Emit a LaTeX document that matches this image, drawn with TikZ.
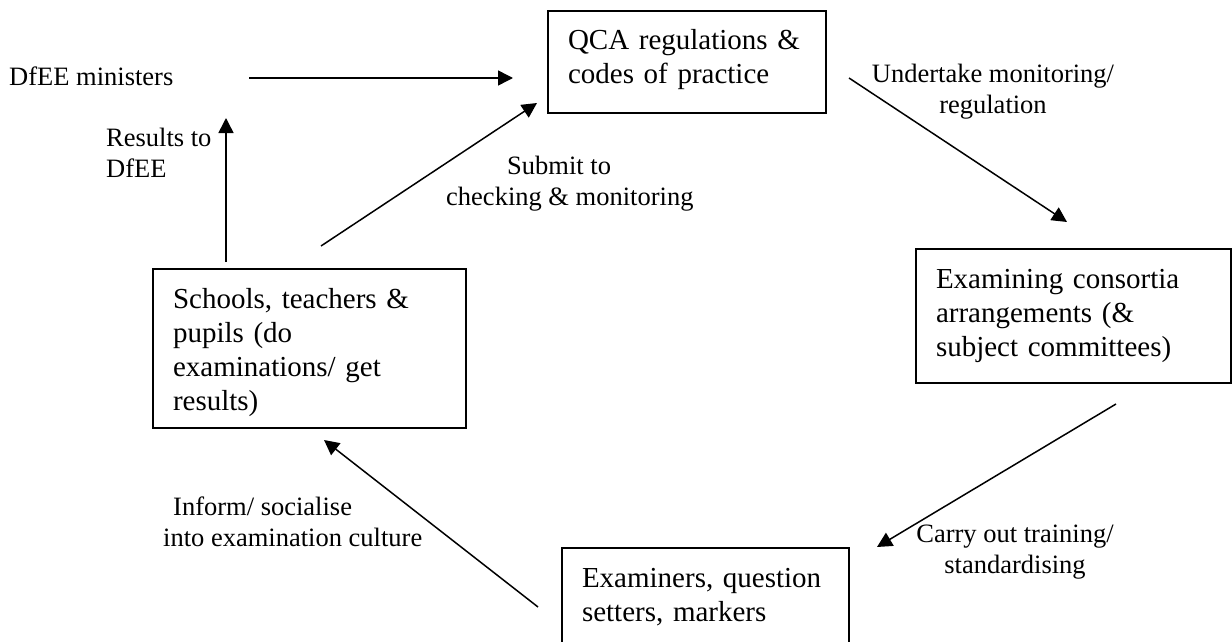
\documentclass[tikz,border=0pt]{standalone}
\usepackage{fontspec}
\setmainfont{Liberation Serif}
\usepackage{tikz}
\usetikzlibrary{arrows.meta}
\usetikzlibrary{positioning,calc}

\tikzset{
	stage/.style={draw,line width=1.5pt,outer sep=0pt,anchor=north west,align=left,inner xsep=20pt,inner ysep=0pt,text height=39pt,font=\fontsize{29}{34}\selectfont},
	lbl/.style={inner sep=0pt,font=\fontsize{26.5}{31}\selectfont},
	flow/.style={line width=1.5pt,-{Triangle[length=15pt,width=15pt]}}
}

\begin{document}
\begin{tikzpicture}[x=1pt,y=-1pt]
	\useasboundingbox (0,0) rectangle (1232,642);
	
	\node[stage,text width=238pt,text depth=63pt] (qca) at (548,11) {QCA regulations \&\\codes of practice};
	\node[stage,text width=273pt,text depth=120pt] (schools) at (153,269) {Schools, teachers \&\\pupils (do\\examinations/ get\\results)};
	\node[stage,text width=275pt,text depth=95pt] (examining) at (916,249) {Examining consortia\\arrangements (\&\\subject committees)};
	\node[stage,text width=247pt,text depth=80pt] (examiners) at (562,548) {Examiners, question\\setters, markers};
	
	\node[lbl,anchor=base west] (dfee) at (9,85) {DfEE ministers};
	\node[lbl,anchor=west,align=left] (results) at (106,153) {Results to\\DfEE};
	\node[lbl,anchor=west,align=left] (submit) at (446,184) {\hspace*{61pt}Submit to\\checking \& monitoring};
	\node[lbl,align=center] (undertake) at (993,92) {Undertake monitoring/\\regulation};
	\node[lbl,anchor=west,align=left] (inform) at (163,522) {\hspace*{10pt}Inform/ socialise\\into examination culture};
	\node[lbl,align=center] (carry) at (1015,552) {Carry out training/\\standardising};
	
	\coordinate (dfee-out) at (249,78);
	\coordinate (qca-in) at (513,78);
	\coordinate (schools-up) at (226,262);
	\coordinate (results-end) at (226,118);
	\coordinate (schools-out) at (321,246);
	\coordinate (qca-submit) at (537,103);
	\coordinate (qca-out) at (849,78);
	\coordinate (examining-in) at (1067,222);
	\coordinate (examining-out) at (1116,404);
	\coordinate (examiners-in) at (877,547);
	\coordinate (examiners-out) at (538,607);
	\coordinate (schools-in) at (324,440);
	
	\draw[flow] (dfee-out) -- (qca-in);
	\draw[flow] (schools-up) -- (results-end);
	\draw[flow] (schools-out) -- (qca-submit);
	\draw[flow] (qca-out) -- (examining-in);
	\draw[flow] (examining-out) -- (examiners-in);
	\draw[flow] (examiners-out) -- (schools-in);
\end{tikzpicture}
\end{document}
